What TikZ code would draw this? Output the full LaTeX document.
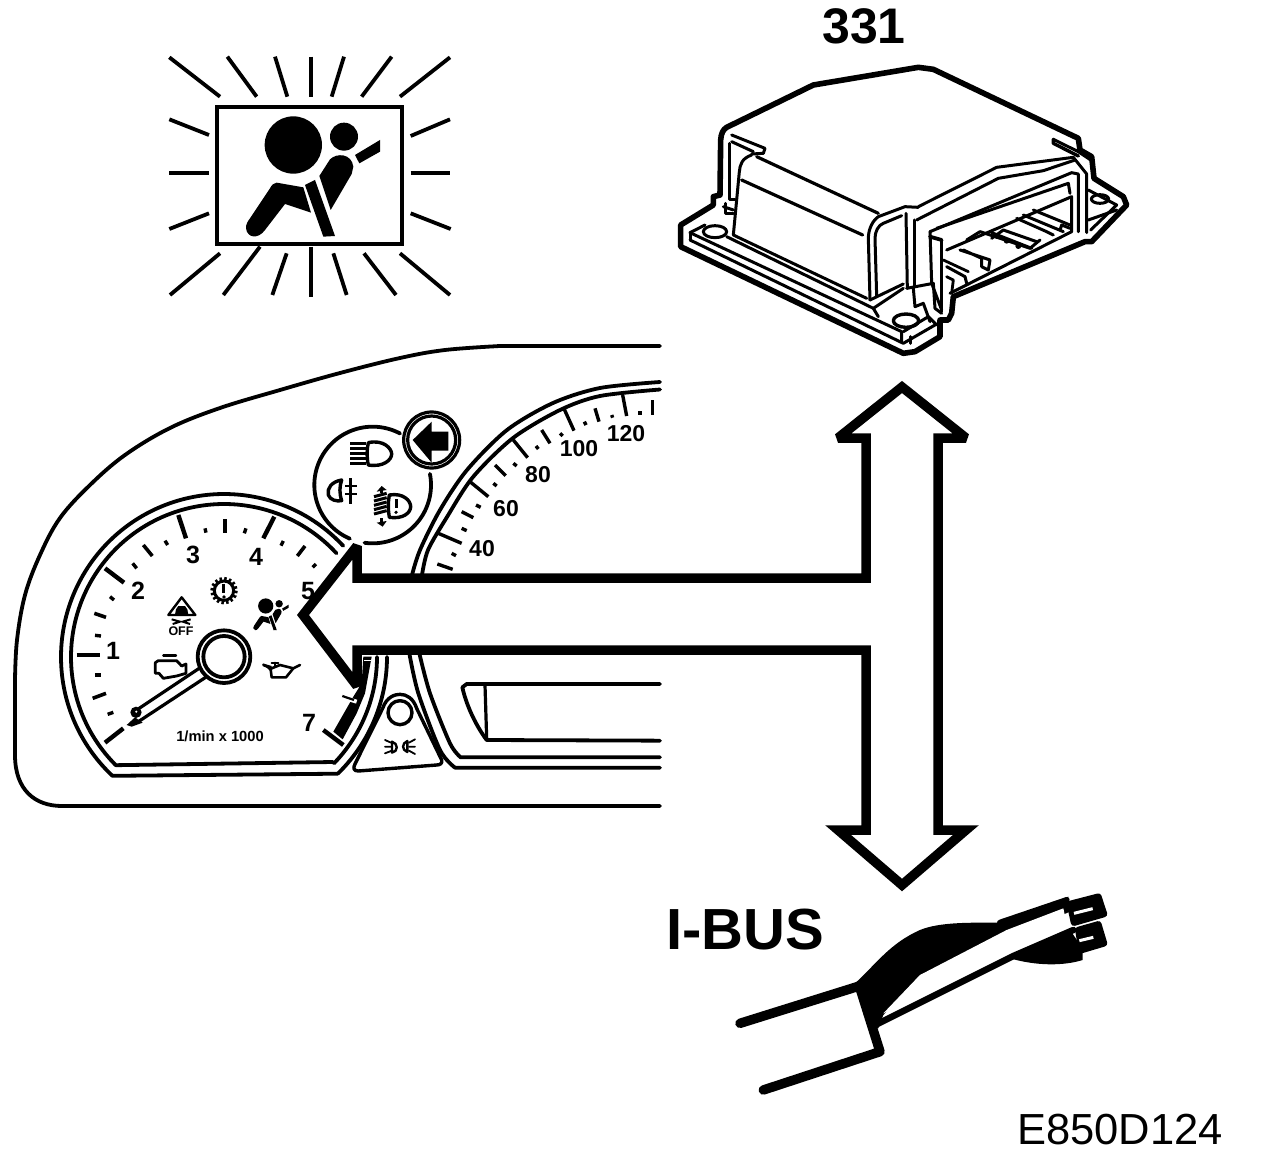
\documentclass[tikz,border=0pt]{standalone}
\usepackage{fontspec}
\setmainfont{Liberation Sans}
\def\carc#1#2#3#4#5{plot[smooth,domain=#4:#5,samples=70,variable=\t] ({#1+#3*cos(\t)},{#2-#3*sin(\t)})}
\newcommand{\airbagicon}{%
  \fill (400,285) circle (86);
  \fill (552,260) circle (42);
  \fill (350,398) -- (430,412) -- (453,488) -- (375,462) -- (315,540) .. controls (295,568) and (262,565) .. (258,535) .. controls (257,522) and (265,512) .. (270,505) -- (330,415) .. controls (335,405) and (342,398) .. (350,398) -- cycle;
  \fill (435,405) -- (465,390) -- (525,558) -- (490,560) -- cycle;
  \fill (478,378) -- (510,328) .. controls (530,308) and (575,310) .. (580,350) -- (575,372) -- (512,480) -- cycle;
  \fill (585,315) -- (660,270) -- (660,305) -- (598,340) -- cycle;
}
\tikzset{
  ln/.style={line width=#1,line cap=round,line join=round},
  ln/.default=4pt,
  num/.style={inner sep=0pt,font=\bfseries\fontsize{23}{23}\selectfont},
  tnum/.style={inner sep=0pt,font=\bfseries\fontsize{25}{25}\selectfont},
  hub/.style={ln=3.8pt}
}
\begin{document}
\begin{tikzpicture}[x=1pt,y=-1pt]
\useasboundingbox (0,0) rectangle (1264,1164);
\fill[white] (0,0) rectangle (1264,1164);

% ---- warning lamp
\begin{scope}[shift={(160,50)},scale=0.33333]
  \draw[line width=4pt] (170,170) rectangle (725,582);
  \foreach \a/\b/\c/\d in {28/22/180/140,202/20/290/140,345/20/382/140,453/20/453/140,552/20/515/140,695/20/605/140,870/22/720/140,
     28/208/147/255,28/368/147/368,28/537/147/490,752/258/870/208,752/368/870/368,752/490/872/537,
     30/735/180/610,190/735/300/590,337/735/380/610,452/590/452/740,520/610/560/735,612/610/708/735,720/610/870/735}
    \draw[line width=3.8pt,line cap=butt] (\a,\b) -- (\c,\d);
  \airbagicon
\end{scope}

% ---- instrument panel outline
\draw[ln=3.8pt] (660,346) -- (500,346) -- plot[smooth,tension=0.6] coordinates {(500,346)(445,350)(400,358)(340,373)(280,390)(220,408)(170,428)(125,455)(90,485)(60,518)(40,555)(25,595)(17,640)(15,680)};
\draw[ln=3.8pt] (15,680) -- (15,755) .. controls (15,790) and (35,806) .. (62,806) -- (660,806);

% ---- speedometer arcs
\draw[ln=3.8pt] plot[smooth] coordinates {(660,382)(600,388)(553,403)(507,430)(467,470)(440,510)(420,550)(412,575)};
\draw[ln=3.8pt] plot[smooth] coordinates {(660,389.5)(600,396)(560,410)(513,438)(473,477)(447,517)(428,550)(422,575)};
\begin{scope}[shift={(330,640)},scale=0.33333]
  \draw[ln=3.8pt] plot[smooth] coordinates {(238,40)(265,160)(330,330)(375,383)} -- (990,383);
  \draw[ln=3.8pt] plot[smooth] coordinates {(268,40)(300,160)(360,310)(392,352)} -- (990,352);
  \draw[ln=3.8pt] (990,132) -- (410,132) -- (397,142) .. controls (410,200) and (440,260) .. (470,300) -- (990,302);
  \draw[ln=3.2pt] (465,135) -- (470,295);
  % fog-lamp warning triangle
  \draw[ln=3.4pt] (85,393) .. controls (72,393) and (68,385) .. (75,372) -- (158,205) .. controls (170,170) and (195,163) .. (210,163) .. controls (230,163) and (250,175) .. (260,205) -- (335,360) .. controls (338,370) and (330,375) .. (320,375) -- cycle;
  \draw[ln=3.4pt] (210,218) circle (36);
  \draw[ln=2.4pt] (186,305) .. controls (205,310) and (205,335) .. (186,338) -- cycle;
  \draw[ln=1.8pt] (165,300) -- (183,308) (165,320) -- (183,320) (165,340) -- (183,333);
  \draw[ln=2.4pt] (232,303) .. controls (215,310) and (215,330) .. (232,336) -- cycle;
  \draw[ln=1.8pt] (255,298) -- (237,308) (255,320) -- (237,320) (255,342) -- (237,332);
\end{scope}

% ---- speedometer ticks and numbers
\begin{scope}[shift={(300,380)},scale=0.33333]
  \foreach \a/\b/\c/\d in {415/460/485/490,412/552/458/568,485/395/520/413,510/305/565/350,585/255/617/287,640/180/683/233,725/150/750/190,793/88/822/152,885/85/897/125,968/45/980/108,1058/60/1058/105}
    \draw[line width=3.4pt] (\a,\b) -- (\c,\d);
  \foreach \a/\b/\c/\d in {455/520/468/527,485/445/500/452,528/375/542/382,580/310/590/318,640/250/650/258,708/198/715/207,780/160/788/168,853/125/858/135,935/105/938/113,1020/93/1020/105}
    \draw[line width=3.4pt] (\a,\b) -- (\c,\d);
\end{scope}
\node[num] (s40) at (482,549) {40};
\node[num] (s60) at (506,509) {60};
\node[num] (s80) at (538,475) {80};
\node[num] (s100) at (579,449) {100};
\node[num] (s120) at (626,434) {120};

% ---- tachometer
\draw[ln=3.8pt] \carc{224}{657}{163}{43}{226.8} -- (337.8,773.7);
\draw[ln=3.8pt] \carc{224}{657}{163}{-45.7}{0};
\draw[ln=3.8pt] \carc{224}{657}{153}{42.7}{225} -- (333,762);
\draw[ln=3.8pt] \carc{224}{657}{153}{-44}{0};

\begin{scope}[shift={(0,480)},scale=0.33333]
  \foreach \a/\b/\c/\d in {230/525/300/525,315/788/370/745,315/265/372/308,535/105/558/175,823/110/790/175,970/750/1030/795}
    \draw[line width=4.4pt] (\a,\b) -- (\c,\d);
  \foreach \a/\b/\c/\d in {283/400/318/412,430/195/457/228,675/118/675/158,915/198/892/228,278/655/318/640}
    \draw[line width=3.6pt] (\a,\b) -- (\c,\d);
  \foreach \a/\b/\c/\d in {330/350/342/360,398/250/410/265,495/182/503/195,615/145/618/158,738/145/733/160,850/183/843/197,938/262/948/252,285/466/303/468,285/585/303/585,323/703/340/697}
    \draw[line width=3.4pt] (\a,\b) -- (\c,\d);
  % red zone
  \fill (1000,755) -- (1028,778) -- (1070,700) -- (1095,640) -- (1115,530) -- (1090,530) -- (1085,610) -- (1060,650) -- cycle;
  \draw[white,line width=1pt] (1093,540) -- (1113,540);
  \draw[white,line width=4pt] (1020,650) -- (1070,665);
  \draw[line width=2.2pt] (1027,648) -- (1062,660);
  % needle
  \draw[ln=3.2pt] (605,560) -- (410,690);
  \draw[ln=3.2pt] (620,590) -- (415,725);
  \fill (408,697) circle (17);
  \fill (380,735) -- (405,712) -- (428,728) -- (395,740) -- cycle;
  \fill[white] (409,695) circle (3.5);
  % hub
  \draw[hub,fill=white] (672,530) circle (79);
  \draw[hub,fill=white] (672,530) circle (62);
  % gear symbol
  \draw[line width=3pt] (672,332) circle (29);
  \draw[line width=3.6pt,dash pattern=on 2.5pt off 2.2pt] (672,332) circle (36);
  \draw[line width=3pt] (672,312) -- (672,340);
  \fill (672,351) circle (5.5);
  % stability symbol
  \draw[ln=2.4pt] (545,352) -- (505,405) -- (586,405) -- cycle;
  \fill (528,388) -- (535,378) -- (555,378) -- (562,388) -- (565,404) -- (525,404) -- cycle;
  \draw[line width=2pt] (515,418) -- (540,425) -- (518,432) (572,418) -- (548,425) -- (570,432);
  % engine symbol
  \draw[ln=2.4pt] (490,526) -- (528,526);
  \draw[ln=2.8pt] (475,542) -- (530,542) -- (545,558) -- (558,552) -- (558,580) -- (530,588) -- (490,595) -- (477,580) -- (466,580) -- (466,548) -- cycle;
  % oil symbol
  \draw[ln=2.6pt] (790,555) -- (815,565) -- (840,555) -- (880,565) -- (900,555) (880,565) -- (858,592) -- (815,592) -- (812,568);
  \fill (788,550) -- (815,558) -- (812,575) -- cycle;
  \fill (815,548) circle (0pt);
  \draw[ln=2.2pt] (825,558) -- (825,548) (815,548) -- (835,548);
\end{scope}
\begin{scope}[shift={(230.4,580.8)},scale=0.0883]
  \airbagicon
\end{scope}
\node[tnum] (t1) at (113,651) {1};
\node[tnum] (t2) at (138,591) {2};
\node[tnum] (t3) at (193,555) {3};
\node[tnum] (t4) at (256,557) {4};
\node[tnum] (t5) at (308,591) {5};
\node[tnum] (t7) at (309,723) {7};
\node[inner sep=0pt,font=\bfseries\fontsize{14.7}{15}\selectfont] (unit) at (220,736) {1/min x 1000};
\node[inner sep=0pt,font=\bfseries\fontsize{12.5}{13}\selectfont] (off) at (181,631.5) {OFF};

% ---- switch cluster
\begin{scope}[shift={(300,380)},scale=0.33333]
  \fill[white] \carc{218}{315}{175}{0}{360} -- cycle;
  \draw[ln=3.8pt] \carc{218}{315}{175}{-98}{11};
  \draw[ln=3.8pt] \carc{218}{315}{175}{62}{247};
  \draw[ln=3.2pt,fill=white] (395,180) circle (84);
  \draw[ln=3.2pt,fill=white] (395,180) circle (72);
  \fill (338,180) -- (395,125) -- (395,155) -- (445,155) -- (445,212) -- (395,212) -- (395,248) -- cycle;
  % high beam
  \draw[ln=3.4pt] (205,188) .. controls (250,178) and (275,205) .. (275,222) .. controls (275,240) and (250,262) .. (205,255) .. controls (200,232) and (200,210) .. (205,188) -- cycle;
  \foreach \y in {190,205,220,235,250} \draw[line width=3pt] (150,\y) -- (197,\y);
  % fog
  \draw[ln=3.4pt] (125,300) .. controls (95,305) and (80,325) .. (85,345) .. controls (90,360) and (110,365) .. (125,362) .. controls (118,340) and (118,320) .. (125,300) -- cycle;
  \draw[line width=2.8pt] (152,295) -- (152,372) (135,318) -- (170,318) (135,342) -- (170,342);
  % level
  \draw[ln=3.4pt] (268,345) .. controls (310,338) and (332,362) .. (332,380) .. controls (332,398) and (310,418) .. (268,412) .. controls (264,390) and (264,365) .. (268,345) -- cycle;
  \draw[line width=3pt] (288,358) -- (288,385);
  \fill (288,397) circle (5.5);
  \foreach \y in {345,358,371,384,397} \draw[line width=3pt] (222,\y+5) -- (260,\y-5);
  \draw[line width=3pt] (245,325) -- (245,340) (245,415) -- (245,432);
  \fill (230,335) -- (260,330) -- (245,318) -- cycle;
  \fill (230,428) -- (260,423) -- (248,440) -- cycle;
\end{scope}

% ---- double arrow
\draw[fill=white,line width=9.5pt,line join=miter,miter limit=3] (357,578) -- (866,578) -- (866,438) -- (838,438) -- (902,387) -- (966,438) -- (938,438)
  -- (938,830) -- (966,830) -- (902,885) -- (838,830) -- (866,830) -- (866,650) -- (357,650) -- (357,686) -- (303,615) -- (357,546) -- cycle;

% ---- control module
\begin{scope}[shift={(670,50)},scale=0.33333]
  % silhouette
  \draw[ln=5.6pt,fill=white] (150,435) -- (152,270) .. controls (153,250) and (160,238) .. (170,232) -- (430,105) -- (745,52) -- (790,58) -- (1225,265)
     -- (1230,300) -- (1265,320) -- (1272,385) -- (1360,440) -- (1370,465) -- (1265,575) -- (1245,575) -- (850,740) -- (845,790)
     -- (835,810) -- (810,810) -- (810,860) -- (735,905) -- (700,910) -- (32,590) -- (32,525) -- (130,465) -- (130,440) -- cycle;
  % left/front body
  \draw[ln=3.2pt] (260,320) -- (625,490);
  \draw[ln=3.2pt] (215,390) -- (578,555);
  \draw[ln=3pt] (245,315) .. controls (215,325) and (210,345) .. (208,365) -- (190,555) -- (590,745);
  \draw[ln=3pt] (185,255) -- (285,295) -- (280,310) -- (245,312);
  \draw[ln=3pt] (178,280) -- (178,450) -- (195,450);
  \draw[ln=3pt] (185,275) -- (250,305);
  % rounded corner
  \draw[ln=3pt] (600,750) -- (595,565) .. controls (595,535) and (610,510) .. (625,500) -- (705,470) -- (745,472);
  \draw[ln=3pt] (620,738) -- (615,565) .. controls (615,545) and (625,525) .. (640,520) -- (695,497);
  \draw[ln=3pt] (600,750) -- (700,702);
  \draw[ln=3pt] (708,490) -- (712,715);
  \draw[ln=3pt] (732,510) -- (732,712);
  % roof to connector
  \draw[ln=3pt] (745,470) -- (980,352) -- (1210,322) -- (1250,372) -- (1250,548);
  \draw[ln=3pt] (740,510) -- (985,385) -- (1120,362) -- (1215,330);
  \draw[ln=3pt] (1150,268) -- (1225,305) -- (1262,330);
  \draw[ln=3.4pt] (1150,268) -- (1150,280) -- (1225,318);
  \draw[ln=3pt] (780,545) -- (1205,368) -- (1225,372) -- (1225,545);
  \draw[ln=3pt] (800,535) -- (1195,400) -- (1200,430);
  \draw[ln=3pt] (780,545) -- (785,700) -- (815,780);
  \draw[ln=3pt] (815,570) -- (815,785);
  \draw[ln=3.8pt] (780,560) -- (815,570);
  \draw[ln=3pt] (710,715) -- (790,700) -- (795,775) -- (815,790);
  \draw[ln=3pt] (730,715) -- (735,770) -- (760,760) -- (780,815);
  % connector
  \draw[ln=3pt] (830,600) -- (1205,440) -- (1205,545) -- (840,730);
  \draw[ln=3pt] (830,650) -- (885,680) -- (890,700);
  \draw[ln=2.8pt] (820,630) -- (895,665) (830,680) -- (850,690) -- (845,730);
  \draw[ln=3pt] (870,600) -- (960,630) -- (955,660) -- (935,650) -- (935,625) -- (880,600);
  \draw[ln=3pt] (890,570) -- (930,545) -- (1080,595) -- (1110,570);
  \draw[ln=3pt] (965,548) -- (1085,595);
  \draw[ln=3pt] (965,565) -- (1000,540) -- (1100,575);
  \fill (1010,572) circle (9);
  \fill (1045,588) circle (9);
  \fill (982,558) circle (9);
  \draw[ln=3pt] (1040,505) -- (1130,545) -- (1150,555) (1090,480) -- (1200,525) (1060,495) -- (1180,545);
  \draw[ln=3pt] (1170,540) -- (1175,525) -- (1200,535);
  % plate
  \draw[ln=3pt] (60,548) -- (695,845) -- (695,875);
  \draw[ln=3pt] (60,570) -- (700,880) -- (795,825);
  \draw[ln=3pt] (60,548) -- (105,525);
  \draw[ln=3pt] (60,548) -- (60,570);
  \draw[ln=3pt] (700,845) -- (775,800) -- (800,825);
  \draw[ln=3pt] (720,860) -- (720,880);
  \draw[ln=3pt] (170,560) -- (610,775) -- (700,715);
  \draw[ln=3pt] (610,775) -- (625,800);
  \draw[ln=3pt] (165,460) -- (165,490) -- (190,490);
  \draw[ln=3pt] (160,470) -- (190,480);
  \draw[ln=3pt] (1255,420) -- (1340,465) -- (1262,540);
  \draw[ln=3pt] (1255,510) -- (1340,480);
  \draw[ln=3pt] (135,545) ellipse (35 and 18);
  \draw[ln=3.4pt] (708,812) ellipse (38 and 20);
  \draw[ln=3pt] (1290,447) ellipse (26 and 13);
\end{scope}
\node[inner sep=0pt,font=\bfseries\fontsize{50}{50}\selectfont] (partno) at (864,26) {331};

% ---- wire harness
\begin{scope}[shift={(720,880)},scale=0.33333]
  \draw[ln=9.5pt] (60,430) -- (418,318) -- (480,515) -- (130,630);
  \fill (405,310) .. controls (470,250) and (510,190) .. (600,150) .. controls (660,125) and (760,128) .. (840,128)
     -- (1045,50) -- (1050,95) -- (600,285) -- (490,405) -- (475,445) -- (445,440) -- cycle;
  \draw[ln=6pt] (840,128) -- (1040,60);
  \fill[white] (490,400) -- (600,285) -- (860,150) -- (1030,85) -- (1042,140) -- (880,212) -- cycle;
  \draw[ln=6.5pt] (472,432) -- (880,228) -- (1060,150);
  \fill (870,235) .. controls (950,258) and (1030,258) .. (1088,240) -- (1088,205) -- (1050,150) -- cycle;
  % plugs
  \draw[ln=6.5pt] (1050,72) -- (1135,50) -- (1152,102) -- (1062,128) -- cycle;
  \fill (1050,72) -- (1135,50) -- (1152,102) -- (1062,128) -- cycle;
  \draw[white,line width=3pt] (1062,100) -- (1118,86);
  \draw[ln=6.5pt] (1075,150) -- (1135,133) -- (1152,190) -- (1085,210) -- cycle;
  \fill (1075,150) -- (1135,133) -- (1152,190) -- (1085,210) -- cycle;
  \draw[white,line width=3pt] (1078,182) -- (1120,172);
\end{scope}
\node[inner sep=0pt,font=\bfseries\fontsize{58}{58}\selectfont] (bus) at (745,930) {I-BUS};
\node[inner sep=0pt,font=\fontsize{43.5}{44}\selectfont] (code) at (1120,1130) {E850D124};
\end{tikzpicture}
\end{document}
